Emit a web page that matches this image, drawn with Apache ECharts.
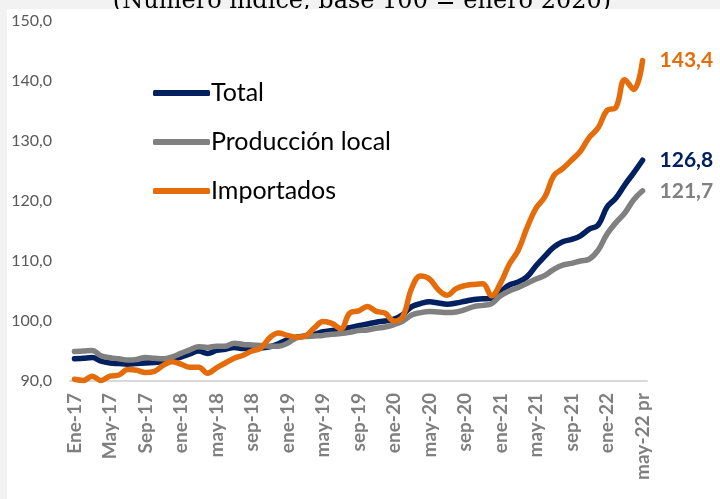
<!DOCTYPE html>
<html>
<head>
<meta charset="utf-8">
<script src="https://cdn.jsdelivr.net/npm/echarts@6/dist/echarts.min.js"></script>
<style>
  html, body { margin: 0; padding: 0; background: #f2f2f2; }
  #chart { width: 720px; height: 499px; }
</style>
</head>
<body>
<div id="chart"></div>
<script>
// meses ene-17 .. may-22 (65 meses)
const meses = ['ene', 'feb', 'mar', 'abr', 'may', 'jun', 'jul', 'ago', 'sep', 'oct', 'nov', 'dic'];
const categorias = [];
for (let a = 17; a <= 22; a++) {
  for (let m = 0; m < 12; m++) {
    if (a === 22 && m > 4) break;
    let nom = meses[m];
    if (a === 17) nom = nom.charAt(0).toUpperCase() + nom.slice(1);
    categorias.push(nom + '-' + a);
  }
}
categorias[categorias.length - 1] = 'may-22 pr';

const total = [
  93.7, 93.8, 93.9, 93.3, 93.0, 92.9, 92.8, 92.9, 93.0, 93.1, 93.2, 93.6,
  94.0, 94.5, 95.0, 94.6, 95.1, 95.3, 95.6, 95.4, 95.4, 95.5, 95.7, 96.2,
  96.9, 97.3, 97.5, 97.8, 98.2, 98.4, 98.6, 98.9, 99.2, 99.5, 99.8, 100.0,
  100.3, 101.1, 102.4, 102.9, 103.2, 103.0, 102.8, 103.0, 103.3, 103.6, 103.7, 103.8,
  104.9, 106.0, 106.5, 107.4, 109.2, 110.8, 112.3, 113.2, 113.6, 114.2, 115.3, 116.0,
  119.0, 120.5, 122.7, 124.7, 126.8
];

const produccionLocal = [
  94.9, 95.0, 95.1, 94.2, 93.9, 93.7, 93.5, 93.6, 93.9, 93.8, 93.7, 94.0,
  94.6, 95.2, 95.7, 95.6, 95.8, 95.8, 96.3, 96.1, 96.0, 95.9, 95.8, 95.8,
  96.3, 97.2, 97.4, 97.5, 97.6, 97.8, 97.9, 98.1, 98.4, 98.5, 98.8, 99.0,
  99.4, 100.0, 101.0, 101.4, 101.6, 101.5, 101.4, 101.5, 101.9, 102.4, 102.6, 102.9,
  104.2, 105.0, 105.6, 106.3, 107.0, 107.6, 108.6, 109.3, 109.6, 110.0, 110.3, 111.8,
  114.5, 116.4, 118.0, 120.2, 121.7
];

const importados = [
  90.3, 90.1, 90.8, 90.1, 90.8, 91.0, 91.9, 91.8, 91.4, 91.6, 92.6, 93.2,
  92.8, 92.3, 92.3, 91.3, 92.2, 93.0, 93.8, 94.3, 95.0, 95.5, 97.2, 98.0,
  97.6, 97.3, 97.5, 98.8, 99.9, 99.6, 98.7, 101.3, 101.7, 102.4, 101.6, 101.3,
  100.0, 100.8, 105.5, 107.5, 107.0, 105.2, 104.3, 105.4, 105.9, 106.1, 106.2, 104.2,
  106.3, 109.5, 111.8, 115.6, 118.8, 120.7, 124.2, 125.4, 126.8, 128.3, 130.6, 132.2,
  135.1, 135.6, 140.2, 138.6, 143.4
];

const nombres = ['Total', 'Producción local', 'Importados'];
const colores = ['#002060', '#808080', '#E46C0A'];
const yTicks = [90, 150, 10]; // min, max, intervalo

const coma = v => Number(v).toFixed(1).replace('.', ',');
const fuente = 'Lato, "Open Sans", sans-serif';

function serie(nombre, datos, color) {
  return {
    name: nombre,
    type: 'line',
    data: datos,
    smooth: 0.4,
    showSymbol: false,
    symbol: 'none',
    lineStyle: { width: 5.5, color: color, cap: 'round', join: 'round' },
    itemStyle: { color: color },
    endLabel: {
      show: true,
      distance: 17,
      formatter: p => coma(p.value),
      color: color,
      fontFamily: fuente,
      fontWeight: 'bold',
      fontSize: 21
    },
    emphasis: { disabled: true }
  };
}

const chart = echarts.init(document.getElementById('chart'));
chart.setOption({
  backgroundColor: '#f2f2f2',
  animation: false,
  graphic: [
    {
      type: 'text',
      z: -2,
      style: {
        text: '(Número índice, base 100 = enero 2020)',
        x: 362,
        y: 14,
        align: 'center',
        verticalAlign: 'bottom',
        font: '24px "DejaVu Serif", serif',
        fill: '#000'
      }
    },
    {
      type: 'rect',
      z: -1,
      shape: { x: 7, y: 9, width: 713, height: 490 },
      style: { fill: '#ffffff' }
    }
  ],
  color: colores,
  legend: {
    data: nombres,
    orient: 'vertical',
    left: 148,
    top: 74,
    itemGap: 21,
    itemWidth: 57,
    itemHeight: 6,
    icon: 'roundRect',
    textStyle: { fontFamily: fuente, fontSize: 25, color: '#000', lineHeight: 28, padding: [0, 0, 0, -4] }
  },
  grid: { left: 70, right: 73, top: 21, bottom: 118 },
  xAxis: {
    type: 'category',
    data: categorias,
    boundaryGap: true,
    axisLine: { lineStyle: { color: '#d9d9d9', width: 2 } },
    axisTick: { show: false },
    axisLabel: {
      interval: 3,
      rotate: 90,
      margin: 12,
      color: '#7f7f7f',
      fontFamily: fuente,
      fontWeight: 'bold',
      fontSize: 19
    }
  },
  yAxis: {
    type: 'value',
    min: yTicks[0],
    max: yTicks[1],
    interval: yTicks[2],
    axisLine: { show: false },
    axisTick: { show: false },
    splitLine: { show: false },
    axisLabel: {
      margin: 18,
      color: '#595959',
      fontFamily: fuente,
      fontSize: 16,
      formatter: v => coma(v)
    }
  },
  series: [
    serie(nombres[0], total, colores[0]),
    serie(nombres[1], produccionLocal, colores[1]),
    serie(nombres[2], importados, colores[2])
  ]
});
</script>
</body>
</html>
